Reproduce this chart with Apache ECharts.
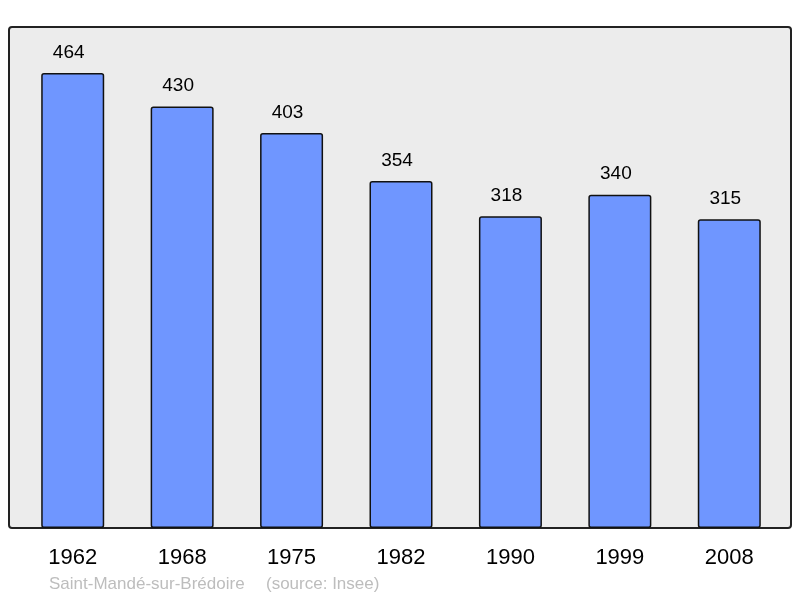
<!DOCTYPE html>
<html lang="fr">
<head>
  <meta charset="UTF-8">
  <script src="https://cdn.jsdelivr.net/npm/echarts@6/dist/echarts.min.js"></script>
  <title>Saint-Mandé-sur-Brédoire</title>
  <style>
    html, body { margin: 0; padding: 0; background: #fff; }
    #chart { width: 800px; height: 598px; }
  </style>
</head>
<body>
  <div id="chart"></div>
  <script>
    // données
    const years = ['1962', '1968', '1975', '1982', '1990', '1999', '2008'];
    const population = [464, 430, 403, 354, 318, 340, 315];
    const commune = 'Saint-Mandé-sur-Brédoire';
    const source = '(source: Insee)';

    const chart = echarts.init(document.getElementById('chart'));
    chart.setOption({
      animation: false,
      textStyle: { fontFamily: 'Liberation Sans, Arial, sans-serif' },
      graphic: [
        {
          type: 'rect',
          z: -10,
          shape: { x: 9, y: 27, width: 782, height: 501, r: 3 },
          style: { fill: '#ececec', stroke: '#222', lineWidth: 2 }
        },
        {
          type: 'text',
          left: 49, top: 576,
          style: { text: commune, fill: '#bdbdbd', font: '17px Liberation Sans, Arial, sans-serif' }
        },
        {
          type: 'text',
          left: 266, top: 576,
          style: { text: source, fill: '#bdbdbd', font: '17px Liberation Sans, Arial, sans-serif' }
        }
      ],
      grid: { left: 18, right: 16, top: 27, bottom: 70 },
      xAxis: {
        type: 'category',
        data: years,
        axisLine: { show: false },
        axisTick: { show: false },
        axisLabel: { color: '#000', fontSize: 22, margin: 19 }
      },
      yAxis: {
        type: 'value',
        min: 0,
        max: 511,
        show: false,
        splitLine: { show: false }
      },
      series: [{
        type: 'bar',
        data: population,
        barWidth: 63,
        itemStyle: { color: '#6f96ff', borderColor: '#111', borderWidth: 1.5, borderRadius: 2 },
        label: {
          show: true,
          position: 'top',
          distance: 11,
          offset: [-4, 0],
          color: '#000',
          fontSize: 19
        }
      }]
    });
  </script>
</body>
</html>
